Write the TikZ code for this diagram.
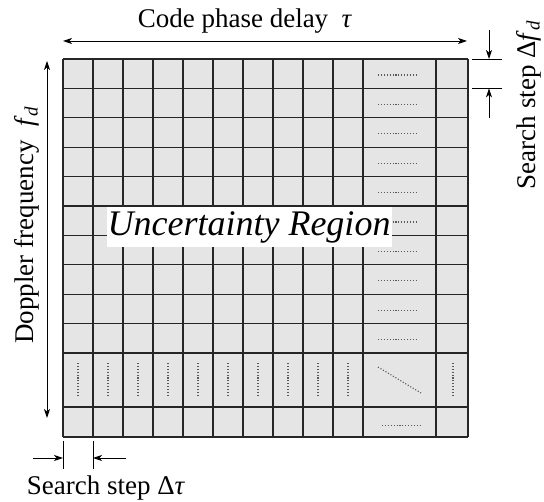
\documentclass[tikz,border=0pt]{standalone}
\usepackage{fontspec}
\setmainfont{Liberation Serif}
\usetikzlibrary{arrows.meta}
\begin{document}
\begin{tikzpicture}[x=1pt,y=-1pt,
  gridline/.style={line width=1.3pt,draw=black!85},
  dotline/.style={line width=1.1pt,draw=black!65,dash pattern=on 1.1pt off 1.8pt},
  dimarrow/.style={line width=0.9pt,-{Stealth[length=9pt,width=6pt,inset=2.5pt]}},
  dimarrows/.style={line width=0.9pt,{Stealth[length=9pt,width=6pt,inset=2.5pt]}-{Stealth[length=9pt,width=6pt,inset=2.5pt]}},
  ticks/.style={line width=0.9pt},
  lbl/.style={font=\fontsize{27}{30}\selectfont,inner sep=0pt}]
\useasboundingbox (0,0) rectangle (544,502);
% grid background
\fill[black!10] (63,59) rectangle (468,437);
% vertical lines
\foreach \x in {63,93,...,363,436,468}
  \draw[gridline] (\x,59) -- (\x,437);
% horizontal lines
\foreach \k in {0,...,10}
  \draw[gridline] (63,59+29.4*\k) -- (468,59+29.4*\k);
\draw[gridline] (63,407) -- (468,407);
\draw[gridline] (63,437) -- (468,437);
% dotted entries in the wide column
\foreach \k in {0,...,9}
  \draw[dotline] (378,75+29.4*\k) -- (418,75+29.4*\k);
\draw[dotline] (382,425.5) -- (422,425.5);
% dotted entries in the tall row
\foreach \x in {78,108,...,348}
  \draw[dotline] (\x,363) -- (\x,395);
\draw[dotline] (453,363) -- (453,395);
\draw[dotline] (378,367) -- (421,393);
% region label
\node[fill=white,minimum width=285pt,minimum height=40pt,inner sep=0pt,
      font=\fontsize{36}{38}\selectfont\itshape] (region) at (249,227) {Uncertainty Region};
% top dimension
\coordinate (tl) at (63,41);
\coordinate (tr) at (467,41);
\draw[dimarrows] (tl) -- (tr);
\node[lbl,anchor=base] (toplbl) at (245,28) {Code phase delay \ \textit{τ}};
% left dimension
\coordinate (lt) at (47,61);
\coordinate (lb) at (47,418);
\draw[dimarrows] (lt) -- (lb);
\node[lbl,rotate=90,anchor=base] (leftlbl) at (33,225) {Doppler frequency \ \textit{f}\textsubscript{\textit{d}}};
% right search step
\coordinate (r1a) at (472,59);  \coordinate (r1b) at (502,59);
\coordinate (r2a) at (472,88.4); \coordinate (r2b) at (502,88.4);
\draw[ticks] (r1a) -- (r1b);
\draw[ticks] (r2a) -- (r2b);
\coordinate (rs1) at (489,30);
\coordinate (rs2) at (489,118);
\draw[dimarrow] (rs1) -- (489,59);
\draw[dimarrow] (rs2) -- (489,88.4);
\node[lbl,rotate=90,anchor=base] (rightlbl) at (535,105) {Search step Δ\textit{f}\textsubscript{\textit{d}}};
% bottom search step
\coordinate (b1a) at (63,441); \coordinate (b1b) at (63,469);
\coordinate (b2a) at (93,441); \coordinate (b2b) at (93,469);
\draw[ticks] (b1a) -- (b1b);
\draw[ticks] (b2a) -- (b2b);
\coordinate (bs1) at (33,458);
\coordinate (bs2) at (126,458);
\draw[dimarrow] (bs1) -- (63,458);
\draw[dimarrow] (bs2) -- (93,458);
\node[lbl,anchor=base] (botlbl) at (106,495) {Search step Δ\textit{τ}};
\end{tikzpicture}
\end{document}
